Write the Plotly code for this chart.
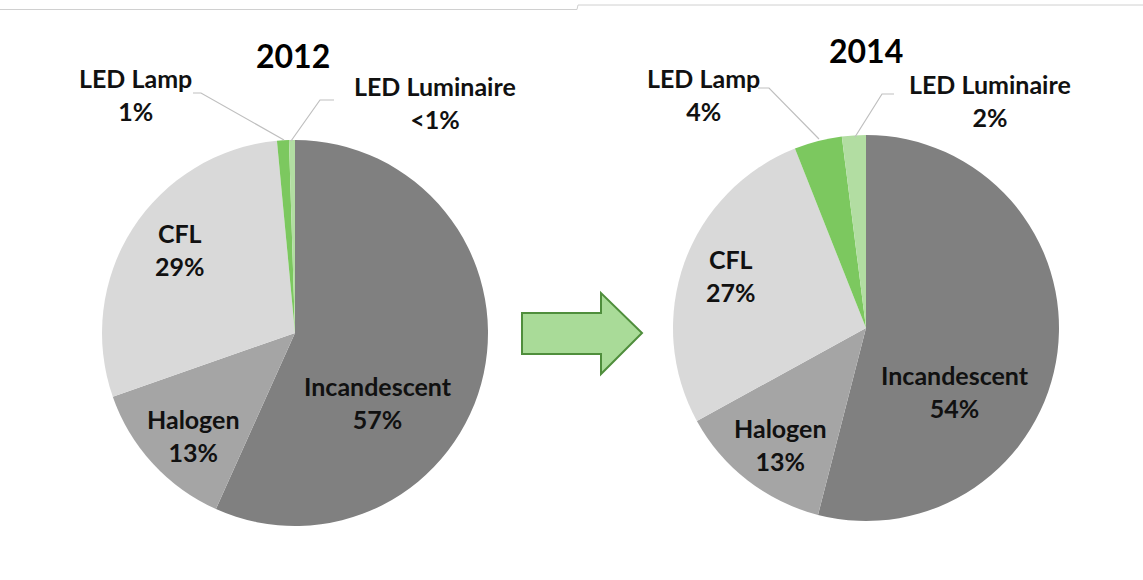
import plotly.graph_objects as go

W, H = 1143, 580

categories = ["Incandescent", "Halogen", "CFL", "LED Lamp", "LED Luminaire"]
values_2012 = [57, 13, 29, 1, 0.5]
labels_2012 = ["57%", "13%", "29%", "1%", "<1%"]
values_2014 = [54, 13, 27, 4, 2]
labels_2014 = ["54%", "13%", "27%", "4%", "2%"]
years = ["2012", "2014"]
colors = ["#808080", "#A5A5A5", "#D9D9D9", "#7CC85F", "#B2DDA2"]

FONT = "Lato"


def px(x):
    return x / W


def py(y):
    return 1 - y / H


fig = go.Figure()

pie_boxes = [
    (102, 488, 140, 526),
    (673, 1059, 135, 521),
]
for vals, box in zip([values_2012, values_2014], pie_boxes):
    x0, x1, y0, y1 = box
    fig.add_trace(go.Pie(
        labels=categories,
        values=vals,
        sort=False,
        direction="clockwise",
        rotation=0,
        marker=dict(colors=colors, line=dict(width=0)),
        textinfo="none",
        hoverinfo="label+percent",
        showlegend=False,
        domain=dict(x=[px(x0), px(x1)], y=[py(y1), py(y0)]),
    ))

annotations = []
shapes = []

# titles
for yr, (x, y) in zip(years, [(293, 55), (866, 50)]):
    annotations.append(dict(text=f"<b>{yr}</b>", x=px(x), y=py(y), xref="paper", yref="paper",
                            showarrow=False, font=dict(family=FONT, size=32, color="#000000"),
                            xanchor="center", yanchor="middle"))

label_pos_2012 = [(378, 402), (193, 435), (180, 249), (135, 95), (435, 103)]
label_pos_2014 = [(955, 391), (780, 444), (731, 275), (703, 95), (990, 101)]

for pcts, poss in [(labels_2012, label_pos_2012), (labels_2014, label_pos_2014)]:
    for cat, pct, (x, y) in zip(categories, pcts, poss):
        annotations.append(dict(text=f"<b>{cat}</b><br><b>{pct}</b>", x=px(x), y=py(y),
                                xref="paper", yref="paper", showarrow=False,
                                font=dict(family=FONT, size=25, color="#111111"),
                                xanchor="center", yanchor="middle", align="center"))

# leader lines
leaders = [
    [(193, 93), (201, 93), (284, 140)],
    [(334, 100), (320, 100), (291, 141)],
    [(758, 88), (769, 88), (819, 139)],
    [(894, 94), (882, 94), (855, 137)],
]
for pts in leaders:
    path = "M " + " L ".join(f"{px(x)},{py(y)}" for x, y in pts)
    shapes.append(dict(type="path", path=path, xref="paper", yref="paper",
                       line=dict(color="#BFBFBF", width=1.2)))

# arrow
arrow = [(522, 313), (601, 313), (601, 293), (642, 333), (601, 374), (601, 354), (522, 354)]
path = "M " + " L ".join(f"{px(x)},{py(y)}" for x, y in arrow) + " Z"
shapes.append(dict(type="path", path=path, xref="paper", yref="paper",
                   fillcolor="#A9DB98", line=dict(color="#4F8E3C", width=2)))

# top border lines
shapes.append(dict(type="path",
                   path=f"M 0,{py(9.5)} L {px(577)},{py(9.5)} L {px(578)},{py(5)} L 1,{py(5)}",
                   xref="paper", yref="paper", line=dict(color="#D0D0D0", width=1)))

fig.update_layout(
    width=W, height=H,
    margin=dict(l=0, r=0, t=0, b=0),
    paper_bgcolor="white",
    plot_bgcolor="white",
    annotations=annotations,
    shapes=shapes,
)

fig.write_html("out.html", config={"displayModeBar": False},
               post_script="document.body.style.margin='0';document.body.style.overflow='hidden';")
